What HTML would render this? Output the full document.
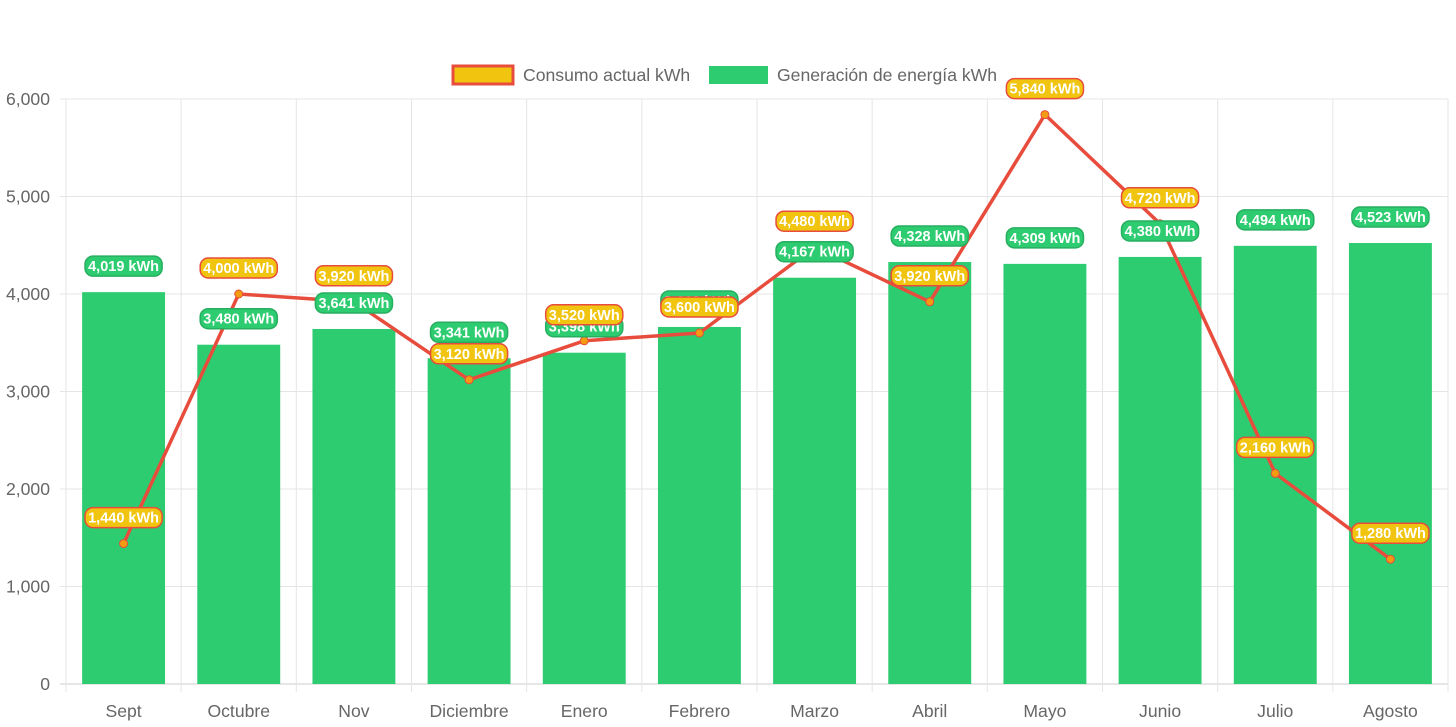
<!DOCTYPE html>
<html><head><meta charset="utf-8"><style>
html,body{margin:0;padding:0;background:#fff;}
svg{display:block;font-family:"Liberation Sans",Arial,sans-serif;}
</style></head><body>
<svg id="chart" width="1456" height="727" viewBox="0 0 1456 727" xmlns="http://www.w3.org/2000/svg">
<g id="grid"></g>
<g id="bars"></g>
<g id="line"></g>
<g id="glabels"></g>
<g id="clabels"></g>
<g id="axes"></g>
<g>
<g>
<rect x="453" y="66" width="60" height="18" fill="#f1c40f" stroke="#e74c3c" stroke-width="3"/>
<text x="523" y="81" font-size="17.6" fill="#666">Consumo actual kWh</text></g>
<g>
<rect x="709" y="66" width="59" height="18" fill="#2ecc71"/>
<text x="777" y="81" font-size="17.6" fill="#666">Generación de energía kWh</text></g>
</g>
</svg>
<script>
const categories=["Sept","Octubre","Nov","Diciembre","Enero","Febrero","Marzo","Abril","Mayo","Junio","Julio","Agosto"];
const generation=[4019,3480,3641,3341,3398,3662,4167,4328,4309,4380,4494,4523];
const consumption=[1440,4000,3920,3120,3520,3600,4480,3920,5840,4720,2160,1280];
const yTicks=[0,1000,2000,3000,4000,5000,6000];
const NS="http://www.w3.org/2000/svg";
const X0=66,X1=1448,Y0=684,Y1=99,YMAX=6000;
const cw=(X1-X0)/categories.length;
function xc(i){return X0+cw*(i+0.5);}
function y(v){return Y0-(v/YMAX)*(Y0-Y1);}
function mk(tag,attrs,parent){const e=document.createElementNS(NS,tag);for(const k in attrs)e.setAttribute(k,attrs[k]);parent.appendChild(e);return e;}
const grid=document.getElementById('grid'),axes=document.getElementById('axes');
yTicks.forEach(t=>{
 const l=mk('line',{x1:X0-6,x2:X1,y1:y(t),y2:y(t),stroke:t===0?'#ccc':'#e5e5e5','stroke-width':1},grid);
 
 
 const tx=mk('text',{x:X0-16,y:y(t)+6,'text-anchor':'end','font-size':17.6,fill:'#666'},axes);
 tx.textContent=t.toLocaleString('en-US');
 
 
});
for(let i=0;i<=categories.length;i++){
 const l=mk('line',{x1:X0+cw*i,x2:X0+cw*i,y1:Y1,y2:Y0+8,stroke:'#e5e5e5','stroke-width':1},grid);
 
 
}
categories.forEach((c,i)=>{
 const tx=mk('text',{x:xc(i),y:717,'text-anchor':'middle','font-size':17.6,fill:'#666'},axes);
 tx.textContent=c;
 
 
});
const bw=cw*0.72;
const bars=document.getElementById('bars');
generation.forEach((v,i)=>{
 const r=mk('rect',{x:xc(i)-bw/2,y:y(v),width:bw,height:Y0-y(v),fill:'#2ecc71'},bars);
 
 
});
function label(g,cx,cy,txt,fill,stroke,name){
 const w=txt.length*7.9+6;
 const grp=mk('g',{},g);
 
 
 mk('rect',{x:cx-w/2,y:cy-10,width:w,height:20,rx:8,fill:fill,stroke:stroke,'stroke-width':1.5},grp);
 const t=mk('text',{x:cx,y:cy+5,'text-anchor':'middle','font-size':14.5,'font-weight':'bold',fill:'#fff'},grp);
 t.textContent=txt;
}
const lg=document.getElementById('line');
const pts=consumption.map((v,i)=>xc(i)+','+y(v)).join(' ');
const pl=mk('polyline',{points:pts,fill:'none',stroke:'#e74c3c','stroke-width':3.5,'stroke-linejoin':'round'},lg);


consumption.forEach((v,i)=>{
 const c=mk('circle',{cx:xc(i),cy:y(v),r:4,fill:'#f39c12',stroke:'#e74c3c','stroke-width':1},lg);
 
 
});
const gl=document.getElementById('glabels');
generation.forEach((v,i)=>label(gl,xc(i),y(v)-26,v.toLocaleString('en-US')+' kWh','#2ecc71','#27ae60','generation-value-label'));
const cl=document.getElementById('clabels');
consumption.forEach((v,i)=>label(cl,xc(i),y(v)-26,v.toLocaleString('en-US')+' kWh','#f1c40f','#e74c3c','consumption-value-label'));
</script>
</body></html>
